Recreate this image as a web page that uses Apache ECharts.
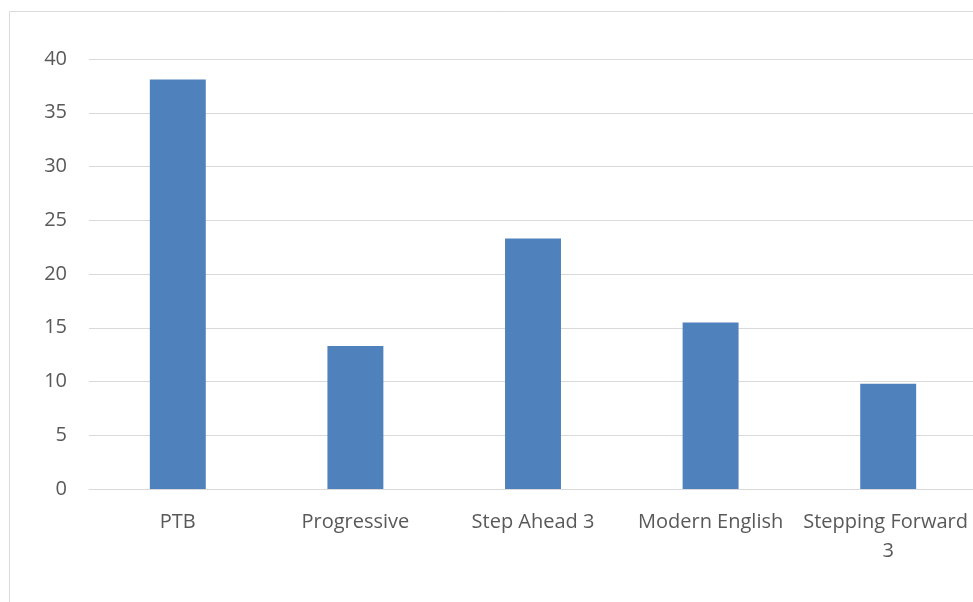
<!DOCTYPE html>
<html><head><meta charset="utf-8">
<script src="https://cdn.jsdelivr.net/npm/echarts@6/dist/echarts.min.js"></script>
<style>html,body{margin:0;padding:0;overflow:hidden;background:#fff}#c{width:982px;height:602px}</style>
</head><body><div id="c"></div>
<script>
const categories = ["PTB", "Progressive", "Step Ahead 3", "Modern English", "Stepping Forward 3"];
const values = [38.1, 13.3, 23.3, 15.5, 9.8];
const yTicks = { min: 0, max: 40, interval: 5 };

const chart = echarts.init(document.getElementById('c'));
chart.setOption({
  animation: false,
  graphic: [{
    type: 'rect', shape: { x: 9.5, y: 11.5, width: 1100, height: 1000 },
    style: { fill: 'none', stroke: '#d9d9d9', lineWidth: 1 }, silent: true
  }],
  grid: { left: 89, top: 59, right: 5, bottom: 113, containLabel: false },
  xAxis: {
    type: 'category', data: categories,
    axisLine: { show: true, lineStyle: { color: '#d9d9d9' } },
    axisTick: { show: false },
    axisLabel: { color: '#595959', fontFamily: 'Open Sans', fontSize: 20, margin: 19,
      width: 174, overflow: 'break', lineHeight: 29, interval: 0 }
  },
  yAxis: {
    type: 'value', min: yTicks.min, max: yTicks.max, interval: yTicks.interval,
    axisLine: { show: false }, axisTick: { show: false },
    splitLine: { lineStyle: { color: '#d9d9d9', width: 1 } },
    axisLabel: { color: '#595959', fontFamily: 'Open Sans', fontSize: 20, margin: 22 }
  },
  series: [{
    type: 'bar', data: values, barWidth: '31.5%',
    itemStyle: { color: '#4f81bd' }
  }]
});
</script></body></html>
